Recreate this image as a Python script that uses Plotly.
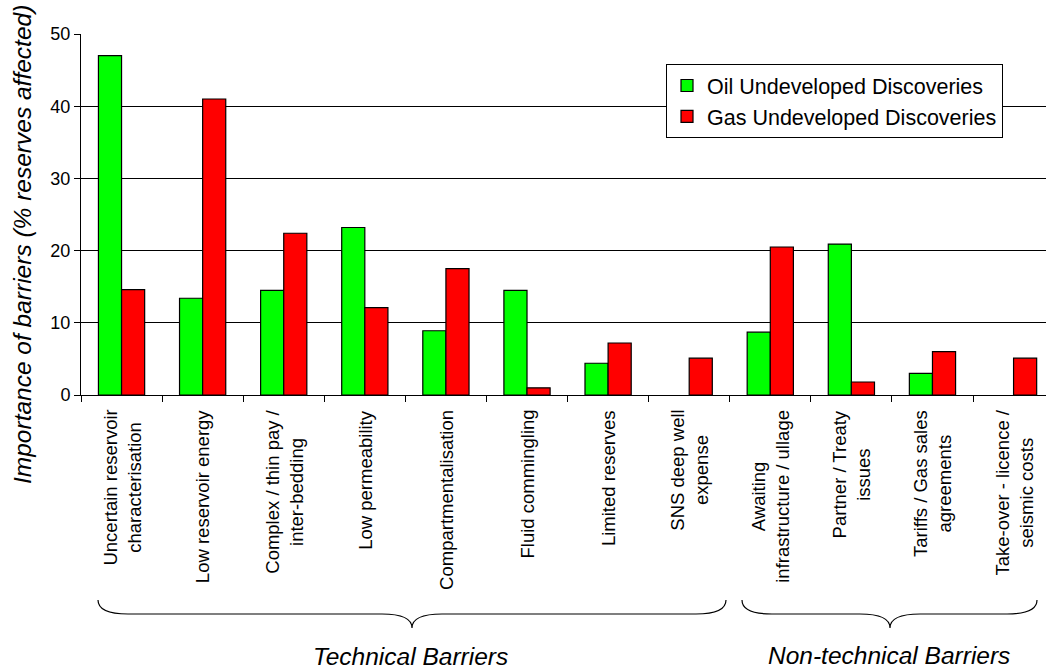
import plotly.graph_objects as go

categories = [
    "Uncertain reservoir<br>characterisation",
    "Low reservoir energy",
    "Complex / thin pay /<br>inter-bedding",
    "Low permeability",
    "Compartmentalisation",
    "Fluid commingling",
    "Limited reserves",
    "SNS deep well<br>expense",
    "Awaiting<br>infrastructure / ullage",
    "Partner / Treaty<br>issues",
    "Tariffs / Gas sales<br>agreements",
    "Take-over - licence /<br>seismic costs",
]
oil_values = [47.0, 13.4, 14.5, 23.2, 8.9, 14.5, 4.4, 0.0, 8.7, 20.9, 3.0, 0.0]
gas_values = [14.6, 41.0, 22.4, 12.1, 17.5, 1.0, 7.2, 5.1, 20.5, 1.8, 6.0, 5.1]
y_ticks = [0, 10, 20, 30, 40, 50]
group_labels = ["Technical Barriers", "Non-technical Barriers"]

FONT = "Arial, Liberation Sans, sans-serif"
W, H = 1046, 672
L, R, T, B = 81, 0, 34, 277
PW, PH = W - L - R, H - T - B


def px_x(x):
    return (x - L) / PW


def px_y(y):
    return (H - B - y) / PH


def outline_widths(vals):
    return [1.2 if v > 0 else 0 for v in vals]


fig = go.Figure()
fig.add_trace(go.Bar(
    name="Oil Undeveloped Discoveries", x=categories, y=oil_values,
    marker=dict(color="#00FF00",
                line=dict(color="#000000", width=outline_widths(oil_values))),
))
fig.add_trace(go.Bar(
    name="Gas Undeveloped Discoveries", x=categories, y=gas_values,
    marker=dict(color="#FF0000",
                line=dict(color="#000000", width=outline_widths(gas_values))),
))

annotations = []
for i, c in enumerate(categories):
    annotations.append(dict(
        x=i, xref="x", y=px_y(408), yref="paper", text=c, showarrow=False,
        textangle=-90, xanchor="center", yanchor="top", align="center",
        font=dict(family=FONT, size=18.5, color="#000000"),
    ))

annotations.append(dict(
    x=px_x(22), y=px_y(245), xref="paper", yref="paper",
    text="<i>Importance of barriers (% reserves affected)</i>",
    showarrow=False, textangle=-90, xanchor="center", yanchor="middle",
    font=dict(family=FONT, size=24.5, color="#000000"),
))
annotations.append(dict(
    x=px_x(410), y=px_y(656), xref="paper", yref="paper",
    text="<i>" + group_labels[0] + "</i>", showarrow=False,
    xanchor="center", yanchor="middle",
    font=dict(family=FONT, size=24.5, color="#000000"),
))
annotations.append(dict(
    x=px_x(889), y=px_y(655), xref="paper", yref="paper",
    text="<i>" + group_labels[1] + "</i>", showarrow=False,
    xanchor="center", yanchor="middle",
    font=dict(family=FONT, size=24.5, color="#000000"),
))


def brace(x0, x1, xm, ytop, ymid, ytip, r=30):
    pts = [
        f"M {px_x(x0)},{px_y(ytop)}",
        f"Q {px_x(x0)},{px_y(ymid)} {px_x(x0 + r)},{px_y(ymid)}",
        f"L {px_x(xm - r)},{px_y(ymid)}",
        f"Q {px_x(xm)},{px_y(ymid)} {px_x(xm)},{px_y(ytip)}",
        f"Q {px_x(xm)},{px_y(ymid)} {px_x(xm + r)},{px_y(ymid)}",
        f"L {px_x(x1 - r)},{px_y(ymid)}",
        f"Q {px_x(x1)},{px_y(ymid)} {px_x(x1)},{px_y(ytop)}",
    ]
    return dict(type="path", xref="paper", yref="paper", path=" ".join(pts),
                line=dict(color="#000000", width=1.2))


shapes = [
    brace(98, 726, 412, 600, 614, 628),
    brace(742, 1037, 890, 600, 614, 628),
]

fig.update_layout(
    width=W, height=H,
    margin=dict(l=L, r=R, t=T, b=B, pad=0),
    paper_bgcolor="#FFFFFF", plot_bgcolor="#FFFFFF",
    barmode="group", bargap=0.43, bargroupgap=0,
    font=dict(family=FONT, color="#000000"),
    showlegend=True,
    legend=dict(
        x=px_x(666), y=px_y(64), xanchor="left", yanchor="top",
        bgcolor="#FFFFFF", bordercolor="#000000", borderwidth=1,
        font=dict(family=FONT, size=21.5, color="#000000"),
        itemwidth=30, tracegroupgap=0,
    ),
    xaxis=dict(
        type="category", range=[-0.5, 11.4],
        showline=True, linecolor="#000000", linewidth=1,
        ticks="outside", tickson="boundaries", ticklen=6,
        tickcolor="#000000", showticklabels=False, showgrid=False,
    ),
    yaxis=dict(
        range=[0, 50], tickvals=y_ticks, showline=True, linecolor="#000000",
        linewidth=1, ticks="outside", ticklen=6, tickcolor="#000000",
        showgrid=True, gridcolor="#000000", gridwidth=1, zeroline=False,
        tickfont=dict(family=FONT, size=18, color="#000000"),
    ),
    annotations=annotations,
    shapes=shapes,
)

fig.write_html("out.html")
